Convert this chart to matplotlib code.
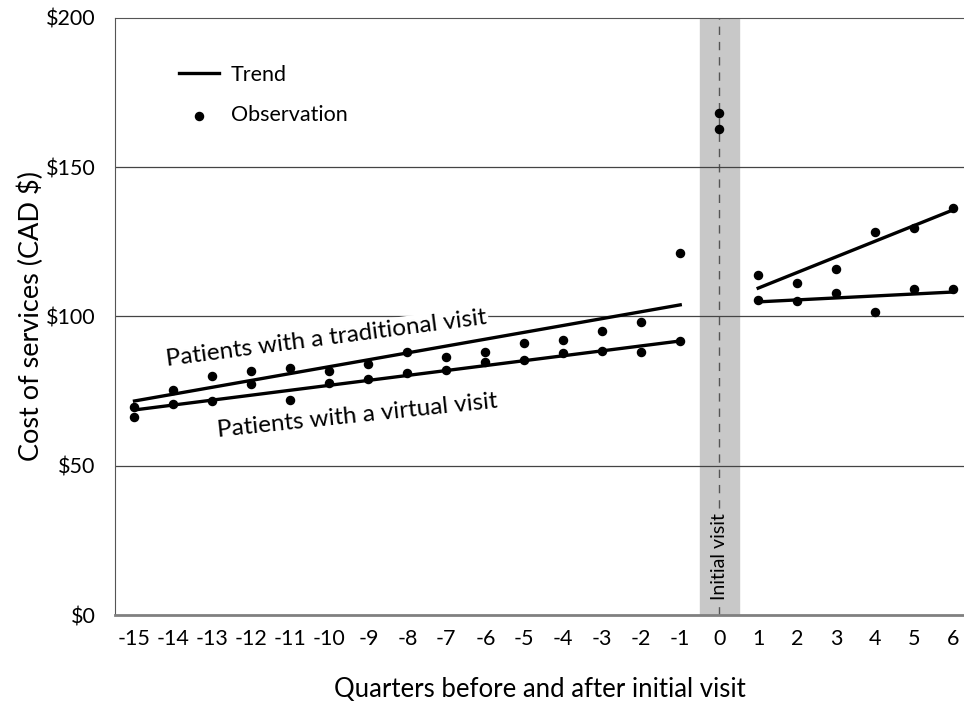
import matplotlib.pyplot as plt

plt.rcParams['font.family'] = ['Lato', 'DejaVu Sans']
plt.rcParams['axes.unicode_minus'] = False

# Quarters relative to the initial visit
quarters_pre = [-15, -14, -13, -12, -11, -10, -9, -8, -7, -6, -5, -4, -3, -2, -1]
quarters_zero = [0]
quarters_post = [1, 2, 3, 4, 5, 6]

# Observed costs, traditional visit
trad_pre = [69.7, 75.4, 80.1, 81.7, 82.7, 81.7, 84.1, 88.1, 86.4, 88.1, 91.1, 92.1, 95.1, 98.2, 121.3]
trad_zero = [168.2]
trad_post = [113.9, 111.2, 115.9, 128.3, 129.6, 136.3]

# Observed costs, virtual visit
virt_pre = [66.3, 70.7, 71.7, 77.4, 72.0, 77.7, 79.1, 81.1, 82.1, 84.8, 85.4, 87.8, 88.4, 88.1, 91.8]
virt_zero = [162.8]
virt_post = [105.5, 105.2, 107.9, 101.5, 109.2, 109.2]

# Trend line end points (start quarter, end quarter)
trend_pre_x = [-15, -1]
trend_post_x = [1, 6]
trend_trad_pre = [71.7, 103.9]
trend_virt_pre = [68.7, 91.8]
trend_trad_post = [109.5, 135.7]
trend_virt_post = [104.9, 108.2]

yticks = [0, 50, 100, 150, 200]
ytick_labels = ['$0', '$50', '$100', '$150', '$200']

fig = plt.figure(figsize=(9.64, 7.02), dpi=100)
ax = fig.add_axes([0.1193, 0.1239, 0.8807, 0.8505])

ax.set_xlim(-15.5, 6.28)
ax.set_ylim(0, 200)

# band and dashed line for the initial visit
ax.axvspan(-0.5, 0.5, color='#c8c8c8', zorder=0)
ax.axvline(0, color='#555555', linestyle=(0, (6, 5)), linewidth=1, zorder=1)

for yv in [50, 100, 150]:
    ax.axhline(yv, color='#444444', linewidth=0.9, zorder=1)

ax.text(0, 5, 'Initial visit', rotation=90, ha='center', va='bottom',
        fontsize=14, zorder=3,
        bbox=dict(facecolor='#c8c8c8', edgecolor='none', pad=2))

# trends
lw = 2.4
ax.plot(trend_pre_x, trend_trad_pre, color='black', linewidth=lw, zorder=4, label='Trend')
ax.plot(trend_pre_x, trend_virt_pre, color='black', linewidth=lw, zorder=4)
ax.plot(trend_post_x, trend_trad_post, color='black', linewidth=lw, zorder=4)
ax.plot(trend_post_x, trend_virt_post, color='black', linewidth=lw, zorder=4)

# observations
ms = 34
ax.scatter(quarters_pre, trad_pre, s=ms, color='black', zorder=5, label='Observation')
ax.scatter(quarters_pre, virt_pre, s=ms, color='black', zorder=5)
ax.scatter(quarters_zero, trad_zero, s=ms, color='black', zorder=5)
ax.scatter(quarters_zero, virt_zero, s=ms, color='black', zorder=5)
ax.scatter(quarters_post, trad_post, s=ms, color='black', zorder=5)
ax.scatter(quarters_post, virt_post, s=ms, color='black', zorder=5)

ax.text(-10.07, 92.6, 'Patients with a traditional visit', rotation=7.5,
        ha='center', va='center', fontsize=17.5, zorder=3,
        bbox=dict(facecolor='white', edgecolor='none', pad=1))
ax.text(-9.29, 66.6, 'Patients with a virtual visit', rotation=6,
        ha='center', va='center', fontsize=17.5, zorder=3)

ax.set_xticks(quarters_pre + quarters_zero + quarters_post)
ax.set_yticks(yticks)
ax.set_yticklabels(ytick_labels)
ax.tick_params(length=0, labelsize=15.5, colors='black', pad=10)
ax.tick_params(axis='y', pad=14)

ax.spines['right'].set_visible(False)
ax.spines['top'].set_color('#555555')
ax.spines['left'].set_color('#555555')
ax.spines['bottom'].set_color('#808080')
ax.spines['bottom'].set_linewidth(2)

ax.set_ylabel('Cost of services (CAD $)', fontsize=19.5, labelpad=1)
ax.set_xlabel('Quarters before and after initial visit', fontsize=18.5, labelpad=20)

leg = ax.legend(loc='upper left', bbox_to_anchor=(0.053, 0.954), frameon=False,
                fontsize=15.5, handlelength=1.85, handletextpad=0.55,
                labelspacing=0.95, scatterpoints=1)

fig.savefig('out.png', dpi=100)
